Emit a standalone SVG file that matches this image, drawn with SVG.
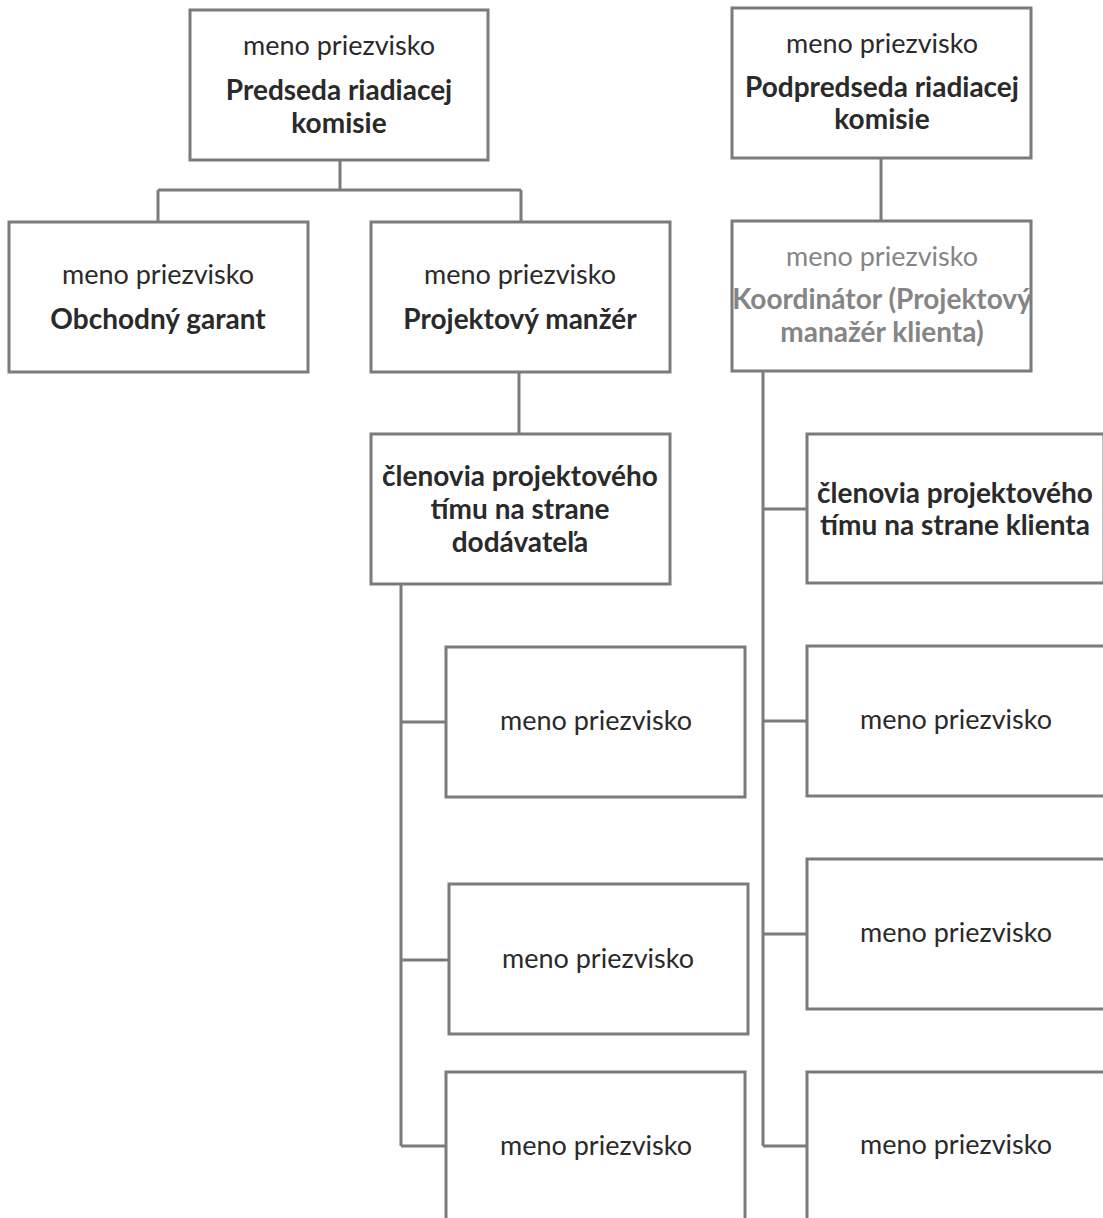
<svg xmlns="http://www.w3.org/2000/svg" width="1103" height="1218" viewBox="0 0 1103 1218">
<style>
.box{fill:#fff;stroke:#7b7b7b;stroke-width:3}
.ln{fill:none;stroke:#7b7b7b;stroke-width:3}
text{font-family:Lato,"Liberation Sans",sans-serif;font-size:27px;fill:#2a2a2a;text-anchor:middle}
.b{font-weight:bold;font-size:28px}
.g{fill:#858585}
</style>
<rect width="1103" height="1218" fill="#fff"/>
<g id="connectors">
<path class="ln" d="M340 160V190M158 190H521M158 190V222M521 190V222"/>
<path class="ln" d="M881 158V221"/>
<path class="ln" d="M519 372V434"/>
<path class="ln" d="M401 584V1146M401 722H446M401 960H449M401 1146H446"/>
<path class="ln" d="M763 371V1146M763 509H807M763 721H807M763 934H807M763 1146H807"/>
</g>
<g id="predseda"><rect class="box" x="190" y="10" width="298" height="150"/>
<text x="339" y="55">meno priezvisko</text>
<text class="b" x="339" y="100">Predseda riadiacej</text>
<text class="b" x="339" y="133">komisie</text></g>
<g id="podpredseda"><rect class="box" x="732" y="8" width="299" height="150"/>
<text x="882" y="53">meno priezvisko</text>
<text class="b" x="882" y="97">Podpredseda riadiacej</text>
<text class="b" x="882" y="129">komisie</text></g>
<g id="obchodny"><rect class="box" x="9" y="222" width="299" height="150"/>
<text x="158" y="284">meno priezvisko</text>
<text class="b" x="158" y="329">Obchodný garant</text></g>
<g id="projektovy"><rect class="box" x="371" y="222" width="299" height="150"/>
<text x="520" y="284">meno priezvisko</text>
<text class="b" x="520" y="329">Projektový manžér</text></g>
<g id="koordinator"><rect class="box" x="732" y="221" width="299" height="150"/>
<text class="g" x="882" y="266">meno priezvisko</text>
<text class="b g" x="882" y="309">Koordinátor (Projektový</text>
<text class="b g" x="882" y="342">manažér klienta)</text></g>
<g id="clenovia-dod"><rect class="box" x="371" y="434" width="299" height="150"/>
<text class="b" x="520" y="486">členovia projektového</text>
<text class="b" x="520" y="519">tímu na strane</text>
<text class="b" x="520" y="552">dodávateľa</text></g>
<g id="clenovia-kl"><rect class="box" x="807" y="434" width="297" height="149"/>
<text class="b" x="955" y="503">členovia projektového</text>
<text class="b" x="955" y="535">tímu na strane klienta</text></g>
<g id="dod1"><rect class="box" x="446" y="647" width="299" height="150"/>
<text x="596" y="730">meno priezvisko</text></g>
<g id="dod2"><rect class="box" x="449" y="884" width="299" height="150"/>
<text x="598" y="968">meno priezvisko</text></g>
<g id="dod3"><rect class="box" x="446" y="1072" width="299" height="160"/>
<text x="596" y="1155">meno priezvisko</text></g>
<g id="kl1"><rect class="box" x="807" y="646" width="300" height="150"/>
<text x="956" y="729">meno priezvisko</text></g>
<g id="kl2"><rect class="box" x="807" y="859" width="300" height="150"/>
<text x="956" y="942">meno priezvisko</text></g>
<g id="kl3"><rect class="box" x="807" y="1072" width="300" height="160"/>
<text x="956" y="1154">meno priezvisko</text></g>
</svg>
